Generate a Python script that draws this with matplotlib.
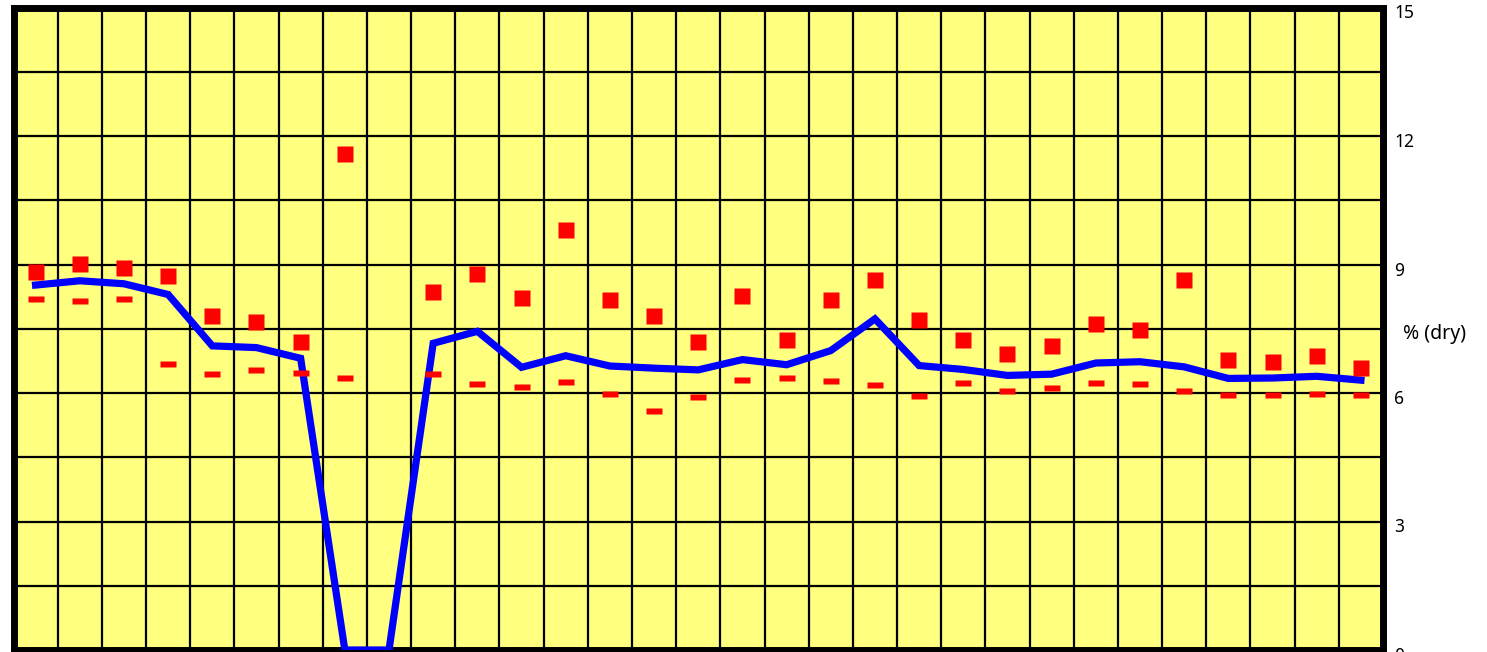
import matplotlib
matplotlib.use("Agg")
import matplotlib.pyplot as plt
import matplotlib.transforms as mtransforms
import numpy as np

plt.rcParams['font.family'] = ['Noto Sans', 'DejaVu Sans']

# 31 sample positions, values in % (dry)
upper = [8.83, 9.02, 8.92, 8.73, 7.80, 7.66, 7.19, 11.59, np.nan, 8.36,
         8.78, 8.22, 9.81, 8.17, 7.80, 7.19, 8.27, 7.23, 8.17, 8.64,
         7.70, 7.23, 6.91, 7.09, 7.61, 7.47, 8.64, 6.77, 6.72, 6.86, 6.58]
lower = [8.20, 8.15, 8.20, 6.67, 6.44, 6.53, 6.46, 6.34, np.nan, 6.44,
         6.20, 6.13, 6.25, 5.97, 5.59, 5.90, 6.30, 6.34, 6.27, 6.18,
         5.92, 6.23, 6.04, 6.11, 6.23, 6.20, 6.04, 5.95, 5.95, 5.97, 5.95]
mean = [8.52, 8.62, 8.55, 8.30, 7.10, 7.06, 6.81, 0.0, 0.0, 7.16,
        7.44, 6.60, 6.87, 6.63, 6.58, 6.54, 6.78, 6.66, 6.99, 7.73,
        6.64, 6.55, 6.41, 6.44, 6.70, 6.73, 6.61, 6.34, 6.35, 6.39, 6.30]
ytick_labels = ['0', '', '3', '', '6', '', '9', '', '12', '', '15']

x = np.arange(len(mean)) + 0.5

fig = plt.figure(figsize=(14.87, 6.52), dpi=100)
ax = fig.add_axes([13.5 / 1487, 2 / 652, 1369.5 / 1487, 642.5 / 652])
ax.set_facecolor('#ffff80')

ax.plot(x, mean, color='#0000ff', lw=5.2, solid_joinstyle='miter', zorder=3)

ax.plot(x, upper, ls='none', marker='s', ms=12.2, mfc='#ff0000', mec='none', zorder=4)
bar = [(-0.5, -0.17), (0.5, -0.17), (0.5, 0.17), (-0.5, 0.17), (-0.5, -0.17)]
ax.plot(x, lower, ls='none', marker=bar, ms=12.2, mfc='#ff0000', mec='none', zorder=4)

ax.set_xlim(0, 31)
ax.set_ylim(0, 15)
ax.set_xticks(np.arange(0, 32))
ax.set_yticks(np.arange(0, 15.1, 1.5))
ax.grid(True, color='black', lw=1.6, zorder=1)
ax.set_axisbelow(True)
ax.tick_params(axis='x', length=0, labelbottom=False)
ax.tick_params(axis='y', length=0, left=False, labelleft=False,
               right=False, labelright=True, pad=8, labelsize=12.5)
ax.set_yticklabels(ytick_labels)
# labels sit a little below their grid lines
shift = mtransforms.ScaledTranslation(0, -4 / 100, fig.dpi_scale_trans)
for lab in ax.get_yticklabels():
    lab.set_transform(lab.get_transform() + shift)
for s in ax.spines.values():
    s.set_linewidth(5)
    s.set_color('black')

fig.text(1403 / 1487, 1 - 334 / 652, '% (dry)', fontsize=14, va='center', ha='left')

fig.savefig('out.png', dpi=100)
